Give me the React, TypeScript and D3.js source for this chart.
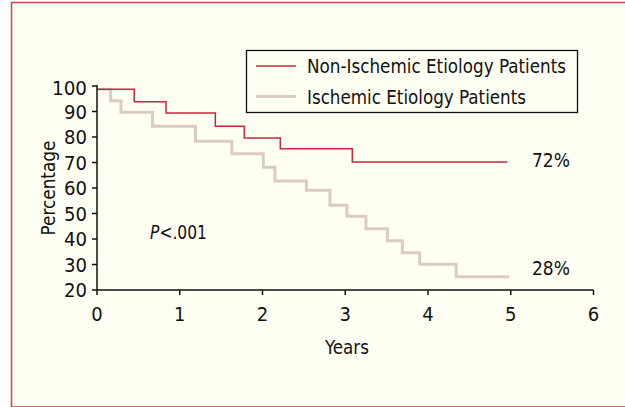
import React from "react";
import * as d3 from "d3";

const xTicks = [0, 1, 2, 3, 4, 5, 6];
const yTicks = [20, 30, 40, 50, 60, 70, 80, 90, 100];

// Kaplan-Meier steps: time (years) at which each level starts, and level (%)
const nonIschemicTimes = [0, 0.45, 0.834, 1.43, 1.78, 2.215, 3.085, 4.96];
const nonIschemicValues = [98.7, 93.8, 89.4, 84.2, 79.6, 75.4, 70.2, 70.2];

const ischemicTimes = [0, 0.165, 0.29, 0.67, 1.19, 1.63, 2.01, 2.15, 2.53, 2.815, 3.02, 3.25, 3.51, 3.69, 3.9, 4.34, 4.98];
const ischemicValues = [98.7, 94.2, 89.7, 84.2, 78.3, 73.4, 68.1, 62.7, 59.1, 53.2, 48.9, 44.0, 39.3, 34.6, 30.1, 25.2, 25.2];

const seriesNames = ["Non-Ischemic Etiology Patients", "Ischemic Etiology Patients"];
const endLabels = ["72%", "28%"];

const W = 625;
const H = 407;
const FONT = "'DejaVu Sans Condensed', 'Liberation Sans Narrow', sans-serif";
const FS = 20;
const RED = "#c42a3c";
const GRAY = "#dccbc2";

export default function App() {
  const x = d3.scaleLinear().domain([0, 6]).range([97, 593.5]);
  const y = d3.scaleLinear().domain([20, 100]).range([290, 86]);

  const line = d3
    .line<[number, number]>()
    .x((d) => x(d[0]))
    .y((d) => y(d[1]))
    .curve(d3.curveStepAfter);

  const redPts = nonIschemicTimes.map((t, i) => [t, nonIschemicValues[i]] as [number, number]);
  const grayPts = ischemicTimes.map((t, i) => [t, ischemicValues[i]] as [number, number]);

  return (
    <svg
      width={W}
      height={H}
      style={{ position: "absolute", left: 0, top: 0, background: "#ffffff" }}
      fontFamily={FONT}
    >
      <rect x={11.5} y={2.5} width={W + 10} height={H - 2.5} fill="#fffff4" stroke="#d04a5a" strokeWidth={1.6} />

      {/* lines */}
      <path d={line(grayPts) || ""} fill="none" stroke={GRAY} strokeWidth={3} />
      <path d={line(redPts) || ""} fill="none" stroke={RED} strokeWidth={1.5} />

      {/* axes */}
      <line x1={x(0)} x2={x(6)} y1={y(20)} y2={y(20)} stroke="#111" strokeWidth={1.5} />
      <line x1={x(0)} x2={x(0)} y1={y(20)} y2={y(100) - 1} stroke="#111" strokeWidth={1.5} />
      {yTicks.map((t) => (
        <g key={"y" + t}>
          <line x1={x(0) - 5} x2={x(0)} y1={y(t)} y2={y(t)} stroke="#111" strokeWidth={1.5} />
          <text
            x={x(0) - 10}
            y={y(t) + (t === 100 ? 2 : 0)}
            dy="0.36em"
            textAnchor="end"
            fontSize={FS}
            textLength={t === 100 ? 35 : 23}
            lengthAdjust="spacingAndGlyphs"
            fill="#111"
          >
            {t}
          </text>
        </g>
      ))}
      {xTicks.map((t) => (
        <g key={"x" + t}>
          <line x1={x(t)} x2={x(t)} y1={y(20)} y2={y(20) + 5} stroke="#111" strokeWidth={1.5} />
          <text x={x(t)} y={321} textAnchor="middle" fontSize={FS} fill="#111">
            {t}
          </text>
        </g>
      ))}
      <text x={325} y={354} fontSize={FS} textLength={44} lengthAdjust="spacingAndGlyphs" fill="#111">
        Years
      </text>
      <text
        transform={`translate(54.5,${y(60)}) rotate(-90)`}
        textAnchor="middle"
        fontSize={FS}
        textLength={95}
        lengthAdjust="spacingAndGlyphs"
        fill="#111"
      >
        Percentage
      </text>

      <text x={150} y={239} fontSize={FS} textLength={57} lengthAdjust="spacingAndGlyphs" fill="#111">
        <tspan fontStyle="italic">P</tspan>
        <tspan>{"<.001"}</tspan>
      </text>

      <text x={532} y={167} fontSize={FS} textLength={38} lengthAdjust="spacingAndGlyphs" fill="#111">{endLabels[0]}</text>
      <text x={532} y={275} fontSize={FS} textLength={38} lengthAdjust="spacingAndGlyphs" fill="#111">{endLabels[1]}</text>

      {/* legend */}
      <rect x={246.5} y={50.5} width={331} height={62} fill="#fffff4" stroke="#111" strokeWidth={1.3} />
      <line x1={256} x2={296} y1={66} y2={66} stroke={RED} strokeWidth={1.5} />
      <line x1={256} x2={296} y1={96.5} y2={96.5} stroke={GRAY} strokeWidth={3} />
      <text x={307} y={66} dy="0.36em" fontSize={FS} textLength={259} lengthAdjust="spacingAndGlyphs" fill="#111">{seriesNames[0]}</text>
      <text x={307} y={96.5} dy="0.36em" fontSize={FS} textLength={219} lengthAdjust="spacingAndGlyphs" fill="#111">{seriesNames[1]}</text>
    </svg>
  );
}
